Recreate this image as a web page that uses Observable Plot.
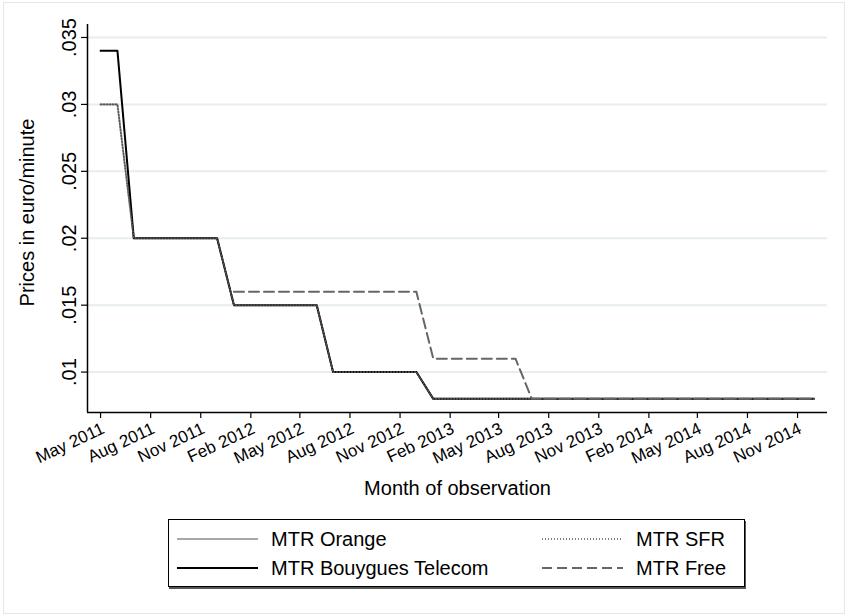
<!DOCTYPE html>
<html>
<head>
<meta charset="utf-8">
<script src="https://cdn.jsdelivr.net/npm/d3@7"></script>
<script src="https://cdn.jsdelivr.net/npm/@observablehq/plot@0.6"></script>
<style>
  body { margin: 0; background: #fff; font-family: "Liberation Sans", Arial, sans-serif; }
  #wrap { position: relative; width: 848px; height: 616px; overflow: hidden; background: #fff; }
  #chart { position: absolute; left: 0; top: 0; }
  #border { position: absolute; left: 3px; top: 2px; width: 842px; height: 612px; border: 1px solid #e3e9eb; box-sizing: border-box; pointer-events: none; }
  #legend { position: absolute; left: 168px; top: 519px; width: 577px; height: 68px; border: 1px solid #000; box-sizing: border-box; box-shadow: 1px 2px 0 #555; background: #fff; }
  .item { position: absolute; display: flex; align-items: center; font-size: 20px; color: #000; height: 24px; }
  .item svg { margin-right: 13px; }
</style>
</head>
<body>
<div id="wrap">
  <div id="chart"></div>
  <div id="legend"></div>
  <div id="border"></div>
</div>
<script>
// ---- data ----
const months = [
  "2011-05","2011-06","2011-07","2011-08","2011-09","2011-10","2011-11","2011-12",
  "2012-01","2012-02","2012-03","2012-04","2012-05","2012-06","2012-07","2012-08","2012-09","2012-10","2012-11","2012-12",
  "2013-01","2013-02","2013-03","2013-04","2013-05","2013-06","2013-07","2013-08","2013-09","2013-10","2013-11","2013-12",
  "2014-01","2014-02","2014-03","2014-04","2014-05","2014-06","2014-07","2014-08","2014-09","2014-10","2014-11","2014-12"
];
const mtrOrange = [
  0.03,0.03,0.02,0.02,0.02,0.02,0.02,0.02,
  0.015,0.015,0.015,0.015,0.015,0.015,0.01,0.01,0.01,0.01,0.01,0.01,
  0.008,0.008,0.008,0.008,0.008,0.008,0.008,0.008,0.008,0.008,0.008,0.008,
  0.008,0.008,0.008,0.008,0.008,0.008,0.008,0.008,0.008,0.008,0.008,0.008
];
const mtrSFR = [
  0.03,0.03,0.02,0.02,0.02,0.02,0.02,0.02,
  0.015,0.015,0.015,0.015,0.015,0.015,0.01,0.01,0.01,0.01,0.01,0.01,
  0.008,0.008,0.008,0.008,0.008,0.008,0.008,0.008,0.008,0.008,0.008,0.008,
  0.008,0.008,0.008,0.008,0.008,0.008,0.008,0.008,0.008,0.008,0.008,0.008
];
const mtrBouygues = [
  0.034,0.034,0.02,0.02,0.02,0.02,0.02,0.02,
  0.015,0.015,0.015,0.015,0.015,0.015,0.01,0.01,0.01,0.01,0.01,0.01,
  0.008,0.008,0.008,0.008,0.008,0.008,0.008,0.008,0.008,0.008,0.008,0.008,
  0.008,0.008,0.008,0.008,0.008,0.008,0.008,0.008,0.008,0.008,0.008,0.008
];
const mtrFree = [
  null,null,null,null,null,null,null,null,
  0.016,0.016,0.016,0.016,0.016,0.016,0.016,0.016,0.016,0.016,0.016,0.016,
  0.011,0.011,0.011,0.011,0.011,0.011,0.008,0.008,0.008,0.008,0.008,0.008,
  0.008,0.008,0.008,0.008,0.008,0.008,0.008,0.008,0.008,0.008,0.008,0.008
];
const xTickLabels = ["May 2011","Aug 2011","Nov 2011","Feb 2012","May 2012","Aug 2012","Nov 2012",
  "Feb 2013","May 2013","Aug 2013","Nov 2013","Feb 2014","May 2014","Aug 2014","Nov 2014"];
const yTickValues = [0.01, 0.015, 0.02, 0.025, 0.03, 0.035];
const yTickLabels = [".01", ".015", ".02", ".025", ".03", ".035"];
const seriesNames = ["MTR Orange", "MTR SFR", "MTR Bouygues Telecom", "MTR Free"];
const xTitle = "Month of observation";
const yTitle = "Prices in euro/minute";

// ---- build ----
const parseMonth = d3.utcParse("%Y-%m");
const parseTick = d3.utcParse("%b %Y");
const rows = months.map((m, i) => ({
  date: parseMonth(m), orange: mtrOrange[i], sfr: mtrSFR[i], bouygues: mtrBouygues[i], free: mtrFree[i]
}));
const xTicks = xTickLabels.map(parseTick);
const xLabelOf = new Map(xTicks.map((t, i) => [+t, xTickLabels[i]]));
const yLabelOf = new Map(yTickValues.map((v, i) => [v, yTickLabels[i]]));

const xDomain = [new Date(Date.UTC(2011, 3, 7)), new Date(Date.UTC(2014, 11, 26))];
const yDomain = [0.00698, 0.03597];

const styles = {
  orange:   {stroke: "#a8a8a8", strokeWidth: 2},
  sfr:      {stroke: "#555555", strokeWidth: 1.6, strokeDasharray: "1,2"},
  bouygues: {stroke: "#000000", strokeWidth: 2},
  free:     {stroke: "#666666", strokeWidth: 2, strokeDasharray: "10,5"}
};

const chart = Plot.plot({
  width: 848,
  height: 510,
  marginTop: 24,
  marginBottom: 98,
  marginLeft: 87,
  marginRight: 21,
  style: {background: "transparent", fontFamily: "'Liberation Sans', Arial, sans-serif", color: "#000"},
  x: {type: "utc", domain: xDomain},
  y: {domain: yDomain},
  marks: [
    Plot.gridY(yTickValues, {stroke: "#e6eef0", strokeWidth: 2, strokeOpacity: 1}),
    Plot.line(rows, {x: "date", y: "orange", ...styles.orange}),
    Plot.line(rows, {x: "date", y: "bouygues", ...styles.bouygues}),
    Plot.line(rows, {x: "date", y: "sfr", ...styles.sfr}),
    Plot.line(rows, {x: "date", y: "free", ...styles.free}),
    Plot.ruleY([yDomain[0]], {stroke: "#000", strokeWidth: 1.5}),
    Plot.ruleX([xDomain[0]], {stroke: "#000", strokeWidth: 1.5}),
    Plot.axisX(xTicks, {
      tickFormat: d => xLabelOf.get(+d), tickRotate: -25, textAnchor: "end", lineAnchor: "top",
      tickSize: 6, tickPadding: 3, fontSize: 17, label: null, stroke: "#000", fill: "#000", strokeWidth: 1.2
    }),
    Plot.axisY(yTickValues, {
      tickFormat: d => yLabelOf.get(d), tickRotate: -90, textAnchor: "middle", lineAnchor: "bottom",
      tickSize: 6, tickPadding: 6, fontSize: 20, label: null, stroke: "#000", fill: "#000", strokeWidth: 1.2
    }),
    Plot.text([xTitle], {frameAnchor: "bottom", dy: 82, fontSize: 20, textAnchor: "middle", fill: "#000"}),
    Plot.text([yTitle], {frameAnchor: "left", dx: -60, dy: -6, rotate: -90, fontSize: 20, textAnchor: "middle", fill: "#000"})
  ]
});
document.getElementById("chart").appendChild(chart);

// ---- legend ----
const legend = document.getElementById("legend");
const legendItems = [
  {name: seriesNames[0], key: "orange",   left: 8,   top: 7},
  {name: seriesNames[1], key: "sfr",      left: 373, top: 7},
  {name: seriesNames[2], key: "bouygues", left: 8,   top: 36},
  {name: seriesNames[3], key: "free",     left: 373, top: 36}
];
for (const it of legendItems) {
  const s = styles[it.key];
  const div = document.createElement("div");
  div.className = "item";
  div.style.left = it.left + "px";
  div.style.top = it.top + "px";
  div.innerHTML = `<svg width="81" height="10"><line x1="0" x2="81" y1="5" y2="5" stroke="${s.stroke}" stroke-width="${s.strokeWidth}" ${s.strokeDasharray ? `stroke-dasharray="${s.strokeDasharray}"` : ""}/></svg><span>${it.name}</span>`;
  legend.appendChild(div);
}
</script>
</body>
</html>
